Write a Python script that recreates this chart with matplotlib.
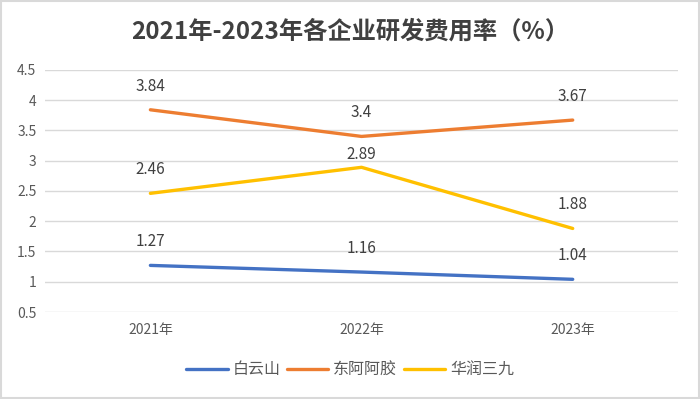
import matplotlib
matplotlib.use("Agg")
import matplotlib.pyplot as plt
from matplotlib.patches import Rectangle

plt.rcParams['font.family'] = ['Noto Sans CJK SC', 'DejaVu Sans']

# data
years = ["2021年", "2022年", "2023年"]
baiyunshan = [1.27, 1.16, 1.04]
dongeejiao = [3.84, 3.4, 3.67]
huarun39 = [2.46, 2.89, 1.88]

series_names = ["白云山", "东阿阿胶", "华润三九"]
series_colors = ["#4472C4", "#ED7D31", "#FFC000"]

fig = plt.figure(figsize=(7, 3.99), dpi=100)
ax = fig.add_axes([0.064, 0.218, 0.905, 0.607])

x = list(range(len(years)))
for vals, name, col in zip([baiyunshan, dongeejiao, huarun39], series_names, series_colors):
    ax.plot(x, vals, color=col, lw=2.4, label=name, solid_capstyle='round')
    for xi, v in zip(x, vals):
        # excel squeezed the 2022 label of the yellow line under the orange one
        dy = 9 if (name == "华润三九" and xi == 1) else 17
        ax.annotate("{:g}".format(v), (xi, v), xytext=(0, dy), textcoords='offset points',
                    ha='center', va='center', fontsize=11, color='#404040')

ax.set_xlim(-0.5, 2.5)
ax.set_ylim(0.5, 4.5)
ax.set_yticks([0.5, 1, 1.5, 2, 2.5, 3, 3.5, 4, 4.5])
ax.set_yticklabels(["0.5", "1", "1.5", "2", "2.5", "3", "3.5", "4", "4.5"])
ax.set_xticks(x)
ax.set_xticklabels(years)
ax.grid(axis='y', color='#d9d9d9', lw=1)
ax.set_axisbelow(True)
for s in ax.spines.values():
    s.set_visible(False)
ax.tick_params(length=0, labelsize=10, colors='#595959')
ax.tick_params(axis='x', pad=8)
ax.tick_params(axis='y', pad=6)

fig.text(0.5, 0.922, "2021年-2023年各企业研发费用率（%）", ha='center', va='center',
         fontsize=17.5, fontweight='bold', color='#404040')

fig.legend(loc='center', bbox_to_anchor=(0.5, 0.073), ncol=3, frameon=False,
           fontsize=11.5, handlelength=2.6, handletextpad=0.3, columnspacing=0.4,
           labelcolor='#595959')

fig.patches.append(Rectangle((0.002, 0.003), 0.996, 0.994, transform=fig.transFigure,
                             fill=False, edgecolor='#d9d9d9', lw=1.5))

fig.savefig("out.png", dpi=100)
